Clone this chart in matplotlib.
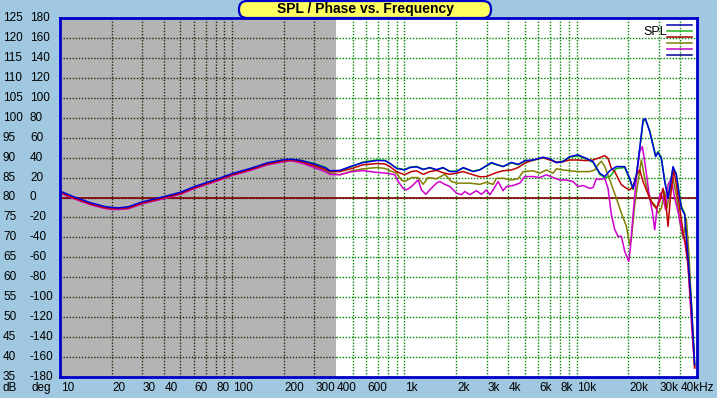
import numpy as np
import matplotlib
matplotlib.use('Agg')
import matplotlib.pyplot as plt
from matplotlib.lines import Line2D
from matplotlib.patches import FancyBboxPatch
from matplotlib.transforms import blended_transform_factory, IdentityTransform

plt.rcParams['font.family'] = ['Liberation Sans', 'DejaVu Sans']

# ---- data: SPL (dB) vs frequency (Hz) ----
f_low = [10, 12, 15, 18, 20, 22, 25, 30, 35, 40, 50, 60, 80, 100, 130, 160, 200, 220, 250, 300, 350]

blue_low = [81.6, 80.2, 78.7, 77.8, 77.5, 77.4, 77.7, 78.9, 79.6, 80.2, 81.3, 82.7, 84.5, 86.0, 87.4, 88.7, 89.5, 89.6, 89.3, 88.4, 87.4]
green_low = [81.4, 80.0, 78.5, 77.6, 77.3, 77.2, 77.5, 78.7, 79.4, 80.0, 81.1, 82.5, 84.3, 85.8, 87.2, 88.6, 89.4, 89.6, 89.3, 88.5, 87.5]
red_low = [81.3, 79.9, 78.4, 77.5, 77.2, 77.2, 77.4, 78.6, 79.3, 79.9, 81.0, 82.4, 84.2, 85.7, 87.1, 88.4, 89.2, 89.4, 89.0, 88.0, 87.0]
olive_low = [81.2, 79.8, 78.3, 77.4, 77.1, 77.1, 77.3, 78.5, 79.2, 79.8, 80.9, 82.3, 84.1, 85.6, 87.0, 88.3, 89.1, 89.3, 88.9, 87.8, 86.7]
magenta_low = [81.1, 79.7, 78.2, 77.3, 77.0, 77.0, 77.2, 78.4, 79.1, 79.7, 80.8, 82.2, 84.0, 85.5, 86.9, 88.2, 89.0, 89.2, 88.7, 87.5, 86.4]

f_blue = [369, 422, 497, 576, 688, 770, 823, 899, 1000, 1075, 1175, 1284, 1404, 1535, 1678, 1835,
          2006, 2192, 2292, 2505, 2740, 2995, 3201, 3422, 3741, 4183, 4572, 4998, 5586, 6387, 6980,
          7631, 8342, 9118, 10194, 10423, 11394, 12455, 13617, 14557, 15564, 17016, 19021, 20333,
          21258, 22229, 23238, 24299, 25072, 26564, 28022, 28781, 29689, 31045, 32452, 33938,
          35010, 36281, 37931, 39137, 40566, 42406, 44335, 46354, 48464]
spl_blue = [86.7, 86.8, 87.9, 88.75, 89.25, 89.25, 88.6, 87.3, 86.9, 87.5, 87.7, 87.0, 87.5, 87.0, 87.5, 86.5,
            86.5, 87.5, 87.2, 86.5, 86.9, 88.0, 88.75, 88.3, 87.75, 88.8, 88.3, 89.25, 89.4, 90.1, 89.7,
            88.75, 89.0, 90.25, 90.7, 90.5, 89.8, 89.0, 86.1, 85.25, 86.7, 87.75, 87.75, 84.8,
            82.3, 85.7, 92.3, 99.4, 99.8, 96.5, 92.3, 90.25, 91.3, 89.8, 84.0, 79.8,
            83.2, 87.75, 85.7, 81.5, 77.3, 75.7, 64.8, 53.2, 38.2]

f_green = f_blue
spl_green = [86.6, 86.7, 87.8, 88.9, 89.4, 89.3, 88.5, 87.4, 87.0, 87.6, 87.8, 87.1, 87.4, 86.9, 87.4, 86.6,
             86.6, 87.4, 87.1, 86.6, 87.0, 87.9, 88.6, 88.2, 87.8, 88.7, 88.2, 89.1, 89.3, 90.0, 89.6,
             88.8, 89.1, 90.1, 90.5, 90.3, 89.6, 88.8, 85.8, 85.0, 85.2, 87.3, 87.5, 84.5,
             82.0, 85.4, 92.0, 99.0, 99.6, 96.8, 92.6, 90.5, 91.5, 90.0, 84.3, 80.2,
             83.6, 87.5, 86.0, 82.0, 77.8, 76.0, 65.5, 54.0, 38.0]

f_red = [369, 422, 497, 576, 688, 770, 823, 899, 1000, 1099, 1175, 1284, 1404, 1535, 1678, 1835,
         2006, 2192, 2505, 2740, 2995, 3422, 3741, 4183, 4572, 4998, 5586, 6387, 6980, 7631, 8342,
         9118, 10194, 11394, 12455, 13617, 14557, 15219, 15915, 16639, 17400, 18192, 19445, 20333,
         21258, 22229, 23238, 24299, 25403, 26564, 27772, 29040, 30357, 31746, 33189, 33938,
         35010, 36609, 37931, 39663, 41468, 42976, 44335, 46354, 48464]
spl_red = [86.5, 86.5, 87.3, 88.2, 88.5, 88.4, 87.75, 86.5, 85.7, 86.5, 86.7, 85.8, 86.5, 86.8, 86.2, 85.8,
           86.1, 86.5, 85.7, 85.2, 85.25, 86.25, 86.7, 86.9, 87.5, 88.6, 89.4, 90.0, 89.4, 88.8, 89.0,
           89.4, 89.4, 89.25, 89.4, 90.0, 90.5, 89.8, 87.3, 86.5, 84.8, 83.2, 82.3, 81.9,
           82.75, 85.7, 86.9, 84.0, 81.9, 79.8, 78.2, 77.3, 79.0, 82.3, 77.3, 72.75,
           79.8, 86.9, 83.2, 77.3, 71.5, 68.2, 63.2, 51.5, 37.3]

f_olive = [369, 422, 497, 576, 688, 770, 823, 899, 961, 1005, 1099, 1201, 1284, 1373, 1535, 1716,
           1876, 2006, 2396, 2740, 2995, 3274, 3422, 3741, 4183, 4572, 4888, 5586, 6109, 6677, 7299,
           7631, 8342, 9118, 10194, 11911, 12737, 13316, 13923, 14557, 15564, 17016, 18190, 19447,
           20063, 20333, 20791, 21739, 22731, 23762, 24848, 25977, 27159, 28399, 29689, 31045,
           32452, 33487, 34697, 36281, 37931, 39663, 41468, 43358, 44930, 46978, 48464]
spl_olive = [86.1, 85.7, 86.7, 87.2, 87.5, 87.3, 86.7, 86.1, 84.4, 84.0, 85.0, 85.0, 83.3, 85.0, 84.7, 85.8,
             84.0, 83.6, 83.6, 83.3, 83.8, 83.3, 84.8, 84.8, 84.4, 84.7, 86.5, 86.7, 86.1, 86.9, 86.1,
             87.2, 86.9, 86.7, 86.5, 86.5, 86.9, 88.2, 89.1, 87.8, 84.5, 79.8, 76.1, 72.8,
             69.5, 68.2, 69.5, 78.2, 84.0, 89.4, 84.8, 81.5, 79.0, 78.2, 76.1, 77.3,
             81.5, 77.3, 81.5, 84.8, 80.7, 74.0, 69.8, 74.8, 65.7, 48.2, 37.3]

f_magenta = [369, 422, 497, 576, 688, 787, 880, 920, 983, 1028, 1099, 1201, 1256, 1331, 1404, 1535,
             1605, 1716, 1835, 2006, 2144, 2242, 2396, 2620, 2801, 2995, 3131, 3274, 3500, 3741, 3911,
             4276, 4674, 4998, 5586, 6109, 6677, 7299, 7979, 8721, 9535, 10194, 10897, 11911, 12455,
             13024, 13617, 14557, 15219, 15915, 16639, 17400, 18192, 19021, 20063, 20516, 21258,
             22229, 23238, 24081, 25177, 26564, 27525, 28399, 29295, 30631, 31746, 32889, 33938,
             35481, 37101, 38788, 40566, 42406, 44335, 46354, 48464]
spl_magenta = [85.8, 85.7, 86.5, 86.75, 86.3, 86.1, 85.7, 84.0, 82.3, 81.9, 82.75, 84.4, 81.9, 80.8, 81.9, 83.6,
               84.0, 83.3, 82.75, 81.1, 80.7, 81.5, 80.7, 81.7, 80.8, 81.9, 80.7, 81.9, 84.0, 81.7, 82.75,
               83.0, 83.6, 85.25, 85.25, 85.0, 85.7, 85.0, 84.4, 84.4, 84.0, 82.75, 83.0, 82.3, 82.5,
               84.7, 84.5, 84.8, 82.3, 75.7, 72.0, 70.25, 70.25, 66.5, 64.0, 67.3, 75.7,
               84.8, 91.5, 92.75, 87.3, 79.8, 76.5, 71.9, 77.3, 81.1, 79.8, 76.9, 83.2,
               84.8, 79.8, 76.5, 72.3, 69.0, 63.2, 49.0, 37.3]

# draw order: last one ends up on top
curves = [
    ('green', f_green, green_low, spl_green, '#00b400'),
    ('olive', f_olive, olive_low, spl_olive, '#808000'),
    ('magenta', f_magenta, magenta_low, spl_magenta, '#d000d0'),
    ('red', f_red, red_low, spl_red, '#c00000'),
    ('blue', f_blue, blue_low, spl_blue, '#0000e0'),
]
legend_colors = ['#0000b0', '#20b020', '#a00000', '#808000', '#c000c0', '#000090']

db_ticks = [125, 120, 115, 110, 105, 100, 95, 90, 85, 80, 75, 70, 65, 60, 55, 50, 45, 40, 35]
deg_ticks = [180, 160, 140, 120, 100, 80, 60, 40, 20, 0, -20, -40, -60, -80, -100, -120, -140, -160, -180]
x_tick_freqs = [10, 20, 30, 40, 60, 80, 100, 200, 300, 400, 600, 1000, 2000, 3000, 4000, 6000, 8000,
                10000, 20000, 30000, 40000]
x_tick_labels = ['10', '20', '30', '40', '60', '80', '100', '200', '300', '400', '600', '1k', '2k', '3k',
                 '4k', '6k', '8k', '10k', '20k', '30k', '40kHz']
grid_freqs = [20, 30, 40, 50, 60, 70, 80, 90, 100, 200, 300, 500, 600, 700, 800, 900, 1000, 2000, 3000,
              4000, 5000, 6000, 7000, 8000, 9000, 10000, 20000, 30000, 40000]

bg = '#a0c8e0'
W, H = 717, 398
fig = plt.figure(figsize=(W / 100, H / 100), dpi=100, facecolor=bg)
ax = fig.add_axes([60 / W, 21 / H, 637 / W, 359 / H])
ax.set_xscale('log')
ax.set_xlim(10, 50000)
ax.set_ylim(35, 125)
ax.set_facecolor('white')
ax.axvspan(10, 400, color='#b4b4b4', zorder=0, lw=0)

dark = '#2a2a10'
green = '#008800'
dots = (0, (1, 1.2))
for f in grid_freqs:
    ax.axvline(f, color=dark if f < 400 else green, ls=dots, lw=1, zorder=1)
for d in db_ticks[1:-1]:
    ax.hlines(d, 10, 400, color=dark, linestyles=dots, lw=1, zorder=1)
    ax.hlines(d, 400, 50000, color=green, linestyles=dots, lw=1, zorder=1)
ax.axhline(80, color='#800000', lw=1.2, zorder=2)

for name, fw, low, hi, col in curves:
    ax.plot(f_low + fw, low + hi, color=col, lw=1.1, zorder=3)

ax.tick_params(which='both', bottom=False, left=False, labelbottom=False, labelleft=False)
for s in ax.spines.values():
    s.set_color('#0000c8')
    s.set_linewidth(2)
    s.set_zorder(5)

# axis labels
tx = ax.get_xaxis_transform()
for f, lab in zip(x_tick_freqs, x_tick_labels):
    ax.text(f * 1.01, -0.031, lab, transform=tx, ha='left', va='center', fontsize=8.5)
ty = blended_transform_factory(fig.transFigure, ax.transData)
for d, p in zip(db_ticks, deg_ticks):
    ax.text(3 / W, d, str(d), transform=ty, ha='left', va='center', fontsize=8.5)
    ax.text(30 / W, d, str(p), transform=ty, ha='left', va='center', fontsize=8.5)
fig.text(3 / W, 1 - 388 / H, 'dB', ha='left', va='center', fontsize=8.5)
fig.text(31 / W, 1 - 388 / H, 'deg', ha='left', va='center', fontsize=8.5)

# title box
box = FancyBboxPatch((239, H - 18), 252, 17, boxstyle='round,pad=0,rounding_size=8',
                     transform=IdentityTransform(), fc='#ffff60', ec='#0000c8', lw=1.6, zorder=10)
fig.add_artist(box)
fig.text(365 / W, 1 - 9.5 / H, 'SPL / Phase vs. Frequency', ha='center', va='center',
         fontsize=10, fontweight='bold', zorder=11)

# legend
fig.text(643 / W, 1 - 32 / H, 'SPL', ha='left', va='center', fontsize=9)
for i, col in enumerate(legend_colors):
    yy = 1 - (25 + 6 * i) / H
    fig.add_artist(Line2D([667 / W, 692 / W], [yy, yy], transform=fig.transFigure, color=col, lw=1.1))

fig.savefig('out.png', dpi=100, facecolor=bg)
